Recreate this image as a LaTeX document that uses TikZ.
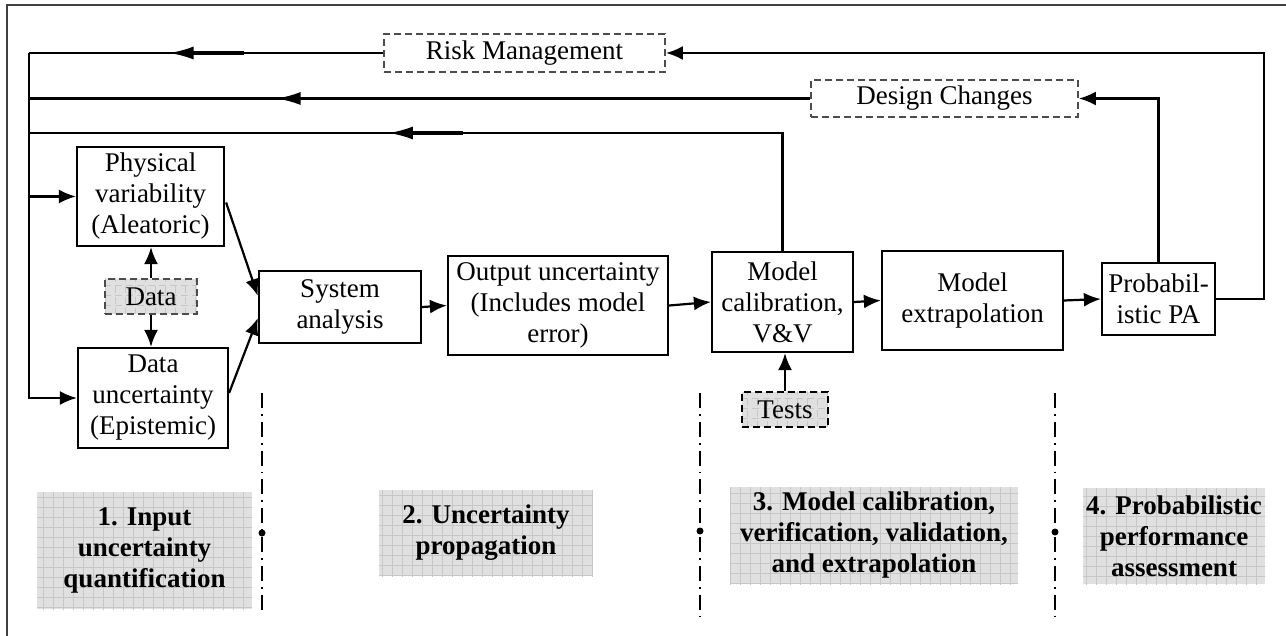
\documentclass[tikz,border=0pt]{standalone}
\usepackage{fontspec}
\setmainfont{Liberation Serif}
\usetikzlibrary{arrows.meta,decorations.markings,calc}
\begin{document}
\begin{tikzpicture}[x=1pt,y=-1pt,
  every node/.style={font=\fontsize{27}{31}\selectfont, align=center, inner sep=0pt},
  box/.style={draw, line width=2.2pt},
  dbox/.style={draw=black!70, line width=1.8pt, dash pattern=on 7pt off 4pt},
  gridfill/.style={fill=black!12, path picture={\draw[black!22, line width=0.7pt, step=10pt] ([xshift=-1pt,yshift=-1pt]path picture bounding box.south west) grid ([xshift=1pt,yshift=1pt]path picture bounding box.north east);}},
  lbl/.style={gridfill, font=\fontsize{27}{31}\selectfont\bfseries},
  conn/.style={line width=2.2pt},
  tip/.style={-{Latex[length=17pt,width=14pt]}},
  midarrow/.style={postaction={decorate}, decoration={markings, mark=at position #1 with {\arrow{Latex[length=24pt,width=13pt]}; \draw[line width=3.2pt] (-22pt,0pt) -- (-74pt,0pt);}}},
  sep/.style={line width=1.8pt, dash pattern=on 15pt off 6pt on 1.8pt off 6pt}
]
\useasboundingbox (0,0) rectangle (1286,636);
\draw[black!75, line width=1.2pt] (7,636) -- (7,5) -- (1286,5);

% main boxes
\node[box, minimum width=147pt, minimum height=99pt] (PV) at (150.5,196.5) {Physical\\variability\\(Aleatoric)};
\node[dbox, gridfill, minimum width=92pt, minimum height=35pt] (Data) at (151,296.5) {Data};
\node[box, minimum width=150pt, minimum height=100pt] (DU) at (153,398) {Data\\uncertainty\\(Epistemic)};
\node[box, minimum width=162pt, minimum height=72pt] (SA) at (340,307) {System\\analysis};
\node[box, minimum width=220pt, minimum height=99pt] (OU) at (558,305.5) {Output uncertainty\\(Includes model\\error)};
\node[box, minimum width=141pt, minimum height=100pt] (MC) at (782.5,302) {Model\\calibration,\\V\&V};
\node[dbox, draw=black, gridfill, minimum width=86pt, minimum height=35pt] (Tests) at (785,409.5) {Tests};
\node[box, minimum width=181pt, minimum height=99pt] (ME) at (972.5,300.5) {Model\\extrapolation};
\node[box, minimum width=113pt, minimum height=72pt] (PA) at (1158.5,299) {Probabil-\\istic PA};
\node[dbox, minimum width=281pt, minimum height=38pt] (RM) at (524.5,53) {Risk Management};
\node[dbox, minimum width=267pt, minimum height=37pt] (DC) at (944.5,98.5) {Design Changes};

% stage labels
\node[lbl, minimum width=215pt, minimum height=117pt] (S1) at (144.5,550.5) {1. Input\\uncertainty\\quantification};
\node[lbl, minimum width=214pt, minimum height=86pt] (S2) at (486,533) {2. Uncertainty\\propagation};
\node[lbl, minimum width=288pt, minimum height=97pt] (S3) at (874,535.5) {3. Model calibration,\\verification, validation,\\and extrapolation};
\node[lbl, minimum width=182pt, minimum height=96pt] (S4) at (1174,536) {4. Probabilistic\\performance\\assessment};

% separators
\coordinate (A1) at (262,393); \coordinate (B1) at (262,615);
\coordinate (A2) at (700,393); \coordinate (B2) at (700,617);
\coordinate (A3) at (1055,393); \coordinate (B3) at (1055,617);
\draw[sep] (A1) -- (B1);
\draw[sep] (A2) -- (B2);
\draw[sep] (A3) -- (B3);
\fill (262,533) circle (3.5pt);
\fill (700,531) circle (3.5pt);
\fill (1055,532) circle (3.5pt);

% feedback lines
\coordinate (L1) at (29,53);
\coordinate (L2) at (29,98.5);
\coordinate (L3) at (29,133);
\coordinate (R1) at (1264,53);
\draw[conn, midarrow=0.603] (RM.west) -- (L1);
\draw[conn, midarrow=0.683] (DC.west) -- (L2);
\draw[conn, midarrow=0.587] (MC.north) -- (MC.north |- L3) -- (L3);
\draw[conn, tip] (L1) |- (DU.west);
\draw[conn, tip] (PV.west -| L1) -- (PV.west);
\draw[conn, tip] (PA.east) -| (R1) -- (RM.east);
\draw[conn, tip] (PA.north) |- (DC.east);

% forward arrows
\draw[conn, tip] (Data.north) -- (PV.south -| Data.north);
\draw[conn, tip] (Data.south) -- (DU.north -| Data.south);
\draw[conn, tip] ($(PV.east)+(1,6)$) -- ($(SA.west)+(0,-11)$);
\draw[conn, tip] ($(DU.east)+(0,-5)$) -- ($(SA.west)+(0,11)$);
\draw[conn, tip] (SA.east) -- (OU.west);
\draw[conn, tip] (OU.east) -- (MC.west);
\draw[conn, tip] (MC.east) -- (ME.west);
\draw[conn, tip] (ME.east) -- (PA.west);
\draw[conn, tip] (Tests.north) -- (MC.south -| Tests.north);
\end{tikzpicture}
\end{document}
